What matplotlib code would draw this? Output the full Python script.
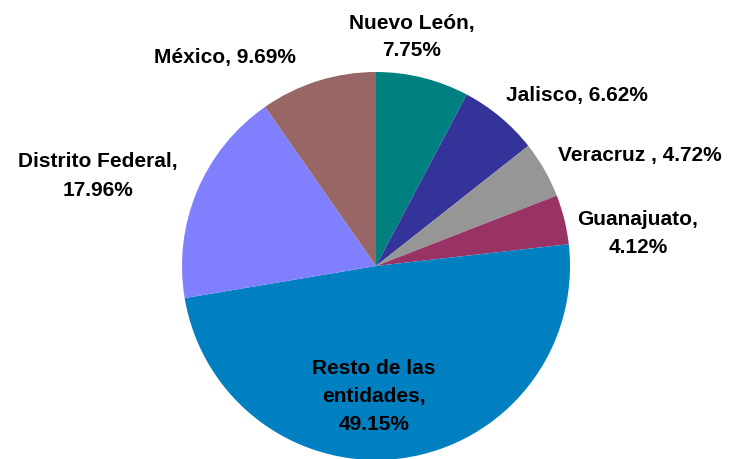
import matplotlib.pyplot as plt

# pie data (clockwise from 12 o'clock)
estados = ["Nuevo León", "Jalisco", "Veracruz ", "Guanajuato", "Resto de las\nentidades",
           "Distrito Federal", "México"]
porcentajes = [7.75, 6.62, 4.72, 4.12, 49.15, 17.96, 9.69]
colores = ["#008080", "#333399", "#969696", "#993366", "#0080C0", "#8080FF", "#996666"]

# label text and where it sits in the picture (pixels)
etiquetas = ["Nuevo León,\n7.75%", "Jalisco, 6.62%", "Veracruz , 4.72%", "Guanajuato,\n4.12%",
             "Resto de las\nentidades,\n49.15%", "Distrito Federal,\n17.96%", "México, 9.69%"]
pos_px = [(412, 37), (577, 95), (640, 156), (638, 234), (374, 397), (98, 176), (225, 57)]

W, H = 734, 460
cx, cy, r = 376, 267, 194

fig = plt.figure(figsize=(W / 100, H / 100), dpi=100)
ax = fig.add_axes([0, 0, 1, 1])
ax.pie(porcentajes, colors=colores, startangle=90, counterclock=False, radius=1,
       wedgeprops=dict(linewidth=0))
ax.set_xlim(-cx / r, (W - cx) / r)
ax.set_ylim((cy - H) / r, cy / r)
ax.set_aspect("equal")
ax.axis("off")

for txt, (px, py) in zip(etiquetas, pos_px):
    fig.text(px / W, 1 - py / H, txt, ha="center", va="center", fontsize=15,
             fontweight="bold", family="Liberation Sans", linespacing=1.6)

fig.savefig("out.png", dpi=100)
